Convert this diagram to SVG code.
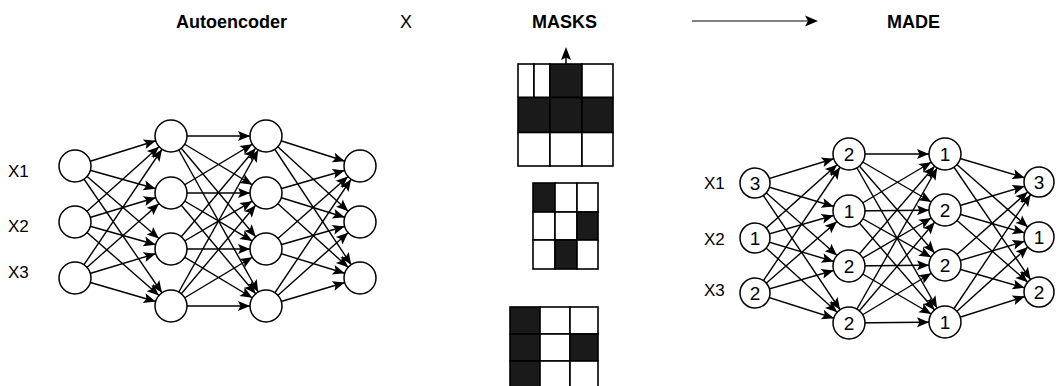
<svg xmlns="http://www.w3.org/2000/svg" width="1058" height="386" viewBox="0 0 1058 386">
<style>
.e{stroke:#000;stroke-width:1.4;fill:none;marker-end:url(#a16)}
.e15{stroke:#000;stroke-width:1.4;fill:none;marker-end:url(#a15)}
.n{fill:#fff;stroke:#000;stroke-width:1.5}
.lbl{font-family:"Liberation Sans",Arial,sans-serif;font-size:17px;fill:#000}
.dg{font-family:"Liberation Sans",Arial,sans-serif;font-size:19px;fill:#000;text-anchor:middle}
.hd{font-family:"Liberation Sans",Arial,sans-serif;font-size:18px;font-weight:bold;fill:#000}
.cw{fill:#fff;stroke:#000;stroke-width:1.6}
.cb{fill:#1a1a1a;stroke:#000;stroke-width:1.6}
</style>
<defs>
<marker id="a16" markerUnits="userSpaceOnUse" markerWidth="1" markerHeight="1" refX="0" refY="0" orient="auto" overflow="visible">
<path d="M-16,0 L-28,-5 L-25.5,0 L-28,5 z" fill="#000"/>
</marker>
<marker id="a15" markerUnits="userSpaceOnUse" markerWidth="1" markerHeight="1" refX="0" refY="0" orient="auto" overflow="visible">
<path d="M-15,0 L-27,-5 L-24.5,0 L-27,5 z" fill="#000"/>
</marker>
</defs>
<rect width="1058" height="386" fill="#fff"/>

<g id="headers">
<text class="hd" x="176" y="28">Autoencoder</text>
<text class="lbl" x="400" y="28" style="font-size:18px">X</text>
<text class="hd" x="532" y="28">MASKS</text>
<text class="hd" x="887" y="28">MADE</text>
</g>

<g id="connectors">
<!-- header arrow -->
<line x1="692" y1="21" x2="808" y2="21" stroke="#808080" stroke-width="2"/>
<path d="M818,21 L805,15.5 L808,21 L805,26.5 z" fill="#000"/>
<!-- mask arrow -->
<line x1="566" y1="64" x2="566" y2="56" stroke="#000" stroke-width="1.5"/>
<path d="M566,47 L561,60 L566,57.5 L571,60 z" fill="#000"/>

<!-- left: input -> hidden1 -->
<line class="e" x1="75" y1="166" x2="171" y2="136"/>
<line class="e" x1="75" y1="166" x2="171" y2="193"/>
<line class="e" x1="75" y1="166" x2="171" y2="249"/>
<line class="e" x1="75" y1="166" x2="171" y2="306"/>
<line class="e" x1="75" y1="222" x2="171" y2="136"/>
<line class="e" x1="75" y1="222" x2="171" y2="193"/>
<line class="e" x1="75" y1="222" x2="171" y2="249"/>
<line class="e" x1="75" y1="222" x2="171" y2="306"/>
<line class="e" x1="75" y1="278" x2="171" y2="136"/>
<line class="e" x1="75" y1="278" x2="171" y2="193"/>
<line class="e" x1="75" y1="278" x2="171" y2="249"/>
<line class="e" x1="75" y1="278" x2="171" y2="306"/>
<!-- left: hidden1 -> hidden2 -->
<line class="e" x1="171" y1="136" x2="266" y2="136"/>
<line class="e" x1="171" y1="136" x2="266" y2="193"/>
<line class="e" x1="171" y1="136" x2="266" y2="249"/>
<line class="e" x1="171" y1="136" x2="266" y2="306"/>
<line class="e" x1="171" y1="193" x2="266" y2="136"/>
<line class="e" x1="171" y1="193" x2="266" y2="193"/>
<line class="e" x1="171" y1="193" x2="266" y2="249"/>
<line class="e" x1="171" y1="193" x2="266" y2="306"/>
<line class="e" x1="171" y1="249" x2="266" y2="136"/>
<line class="e" x1="171" y1="249" x2="266" y2="193"/>
<line class="e" x1="171" y1="249" x2="266" y2="249"/>
<line class="e" x1="171" y1="249" x2="266" y2="306"/>
<line class="e" x1="171" y1="306" x2="266" y2="136"/>
<line class="e" x1="171" y1="306" x2="266" y2="193"/>
<line class="e" x1="171" y1="306" x2="266" y2="249"/>
<line class="e" x1="171" y1="306" x2="266" y2="306"/>
<!-- left: hidden2 -> output -->
<line class="e" x1="266" y1="136" x2="360" y2="166"/>
<line class="e" x1="266" y1="136" x2="360" y2="222"/>
<line class="e" x1="266" y1="136" x2="360" y2="278"/>
<line class="e" x1="266" y1="193" x2="360" y2="166"/>
<line class="e" x1="266" y1="193" x2="360" y2="222"/>
<line class="e" x1="266" y1="193" x2="360" y2="278"/>
<line class="e" x1="266" y1="249" x2="360" y2="166"/>
<line class="e" x1="266" y1="249" x2="360" y2="222"/>
<line class="e" x1="266" y1="249" x2="360" y2="278"/>
<line class="e" x1="266" y1="306" x2="360" y2="166"/>
<line class="e" x1="266" y1="306" x2="360" y2="222"/>
<line class="e" x1="266" y1="306" x2="360" y2="278"/>

<!-- right: input -> hidden1 -->
<line class="e" x1="755" y1="183" x2="849" y2="154"/>
<line class="e" x1="755" y1="183" x2="849" y2="211"/>
<line class="e" x1="755" y1="183" x2="849" y2="266"/>
<line class="e" x1="755" y1="183" x2="849" y2="323"/>
<line class="e" x1="755" y1="238" x2="849" y2="154"/>
<line class="e" x1="755" y1="238" x2="849" y2="211"/>
<line class="e" x1="755" y1="238" x2="849" y2="266"/>
<line class="e" x1="755" y1="238" x2="849" y2="323"/>
<line class="e" x1="755" y1="293" x2="849" y2="154"/>
<line class="e" x1="755" y1="293" x2="849" y2="211"/>
<line class="e" x1="755" y1="293" x2="849" y2="266"/>
<line class="e" x1="755" y1="293" x2="849" y2="323"/>
<!-- right: hidden1 -> hidden2 -->
<line class="e" x1="849" y1="154" x2="945" y2="154"/>
<line class="e" x1="849" y1="154" x2="945" y2="210"/>
<line class="e" x1="849" y1="154" x2="945" y2="265"/>
<line class="e" x1="849" y1="154" x2="945" y2="322"/>
<line class="e" x1="849" y1="211" x2="945" y2="154"/>
<line class="e" x1="849" y1="211" x2="945" y2="210"/>
<line class="e" x1="849" y1="211" x2="945" y2="265"/>
<line class="e" x1="849" y1="211" x2="945" y2="322"/>
<line class="e" x1="849" y1="266" x2="945" y2="154"/>
<line class="e" x1="849" y1="266" x2="945" y2="210"/>
<line class="e" x1="849" y1="266" x2="945" y2="265"/>
<line class="e" x1="849" y1="266" x2="945" y2="322"/>
<line class="e" x1="849" y1="323" x2="945" y2="154"/>
<line class="e" x1="849" y1="323" x2="945" y2="210"/>
<line class="e" x1="849" y1="323" x2="945" y2="265"/>
<line class="e" x1="849" y1="323" x2="945" y2="322"/>
<!-- right: hidden2 -> output -->
<line class="e15" x1="945" y1="154" x2="1039" y2="182"/>
<line class="e15" x1="945" y1="154" x2="1039" y2="237"/>
<line class="e15" x1="945" y1="154" x2="1039" y2="292"/>
<line class="e15" x1="945" y1="210" x2="1039" y2="182"/>
<line class="e15" x1="945" y1="210" x2="1039" y2="237"/>
<line class="e15" x1="945" y1="210" x2="1039" y2="292"/>
<line class="e15" x1="945" y1="265" x2="1039" y2="182"/>
<line class="e15" x1="945" y1="265" x2="1039" y2="237"/>
<line class="e15" x1="945" y1="265" x2="1039" y2="292"/>
<line class="e15" x1="945" y1="322" x2="1039" y2="182"/>
<line class="e15" x1="945" y1="322" x2="1039" y2="237"/>
<line class="e15" x1="945" y1="322" x2="1039" y2="292"/>
</g>

<!-- Left network nodes -->
<g id="ae-in1"><circle class="n" cx="75" cy="166" r="16"/><text class="lbl" x="8" y="177">X1</text></g>
<g id="ae-in2"><circle class="n" cx="75" cy="222" r="16"/><text class="lbl" x="8" y="232">X2</text></g>
<g id="ae-in3"><circle class="n" cx="75" cy="278" r="16"/><text class="lbl" x="8" y="278">X3</text></g>
<g id="ae-h1-1"><circle class="n" cx="171" cy="136" r="16"/></g>
<g id="ae-h1-2"><circle class="n" cx="171" cy="193" r="16"/></g>
<g id="ae-h1-3"><circle class="n" cx="171" cy="249" r="16"/></g>
<g id="ae-h1-4"><circle class="n" cx="171" cy="306" r="16"/></g>
<g id="ae-h2-1"><circle class="n" cx="266" cy="136" r="16"/></g>
<g id="ae-h2-2"><circle class="n" cx="266" cy="193" r="16"/></g>
<g id="ae-h2-3"><circle class="n" cx="266" cy="249" r="16"/></g>
<g id="ae-h2-4"><circle class="n" cx="266" cy="306" r="16"/></g>
<g id="ae-out1"><circle class="n" cx="360" cy="166" r="16"/></g>
<g id="ae-out2"><circle class="n" cx="360" cy="222" r="16"/></g>
<g id="ae-out3"><circle class="n" cx="360" cy="278" r="16"/></g>

<!-- Masks -->
<g id="mask1">
<rect class="cw" x="518" y="64" width="16" height="33.5"/>
<rect class="cw" x="534" y="64" width="16" height="33.5"/>
<rect class="cb" x="550" y="64" width="32" height="33.5"/>
<rect class="cw" x="582" y="64" width="31" height="33.5"/>
<rect class="cb" x="518" y="97.5" width="32" height="35"/>
<rect class="cb" x="550" y="97.5" width="32" height="35"/>
<rect class="cb" x="582" y="97.5" width="31" height="35"/>
<rect class="cw" x="518" y="132.5" width="32" height="33.5"/>
<rect class="cw" x="550" y="132.5" width="32" height="33.5"/>
<rect class="cw" x="582" y="132.5" width="31" height="33.5"/>
</g>
<g id="mask2">
<rect class="cb" x="533" y="183" width="22" height="29"/>
<rect class="cw" x="555" y="183" width="22" height="29"/>
<rect class="cw" x="577" y="183" width="21" height="29"/>
<rect class="cw" x="533" y="212" width="22" height="28"/>
<rect class="cw" x="555" y="212" width="22" height="28"/>
<rect class="cb" x="577" y="212" width="21" height="28"/>
<rect class="cw" x="533" y="240" width="22" height="29"/>
<rect class="cb" x="555" y="240" width="22" height="29"/>
<rect class="cw" x="577" y="240" width="21" height="29"/>
</g>
<g id="mask3">
<rect class="cb" x="510" y="307" width="30" height="27"/>
<rect class="cw" x="540" y="307" width="30" height="27"/>
<rect class="cw" x="570" y="307" width="28" height="27"/>
<rect class="cb" x="510" y="334" width="30" height="27"/>
<rect class="cw" x="540" y="334" width="30" height="27"/>
<rect class="cb" x="570" y="334" width="28" height="27"/>
<rect class="cb" x="510" y="361" width="30" height="28"/>
<rect class="cw" x="540" y="361" width="30" height="28"/>
<rect class="cw" x="570" y="361" width="28" height="28"/>
</g>

<!-- Right network nodes -->
<g id="made-in1"><circle class="n" cx="755" cy="183" r="15"/><text class="dg" x="755" y="190">3</text><text class="lbl" x="704" y="189">X1</text></g>
<g id="made-in2"><circle class="n" cx="755" cy="238" r="15"/><text class="dg" x="755" y="245">1</text><text class="lbl" x="704" y="245">X2</text></g>
<g id="made-in3"><circle class="n" cx="755" cy="293" r="15"/><text class="dg" x="755" y="300">2</text><text class="lbl" x="704" y="296">X3</text></g>
<g id="made-h1-1"><circle class="n" cx="849" cy="154" r="16"/><text class="dg" x="849" y="161">2</text></g>
<g id="made-h1-2"><circle class="n" cx="849" cy="211" r="16"/><text class="dg" x="849" y="218">1</text></g>
<g id="made-h1-3"><circle class="n" cx="849" cy="266" r="16"/><text class="dg" x="849" y="273">2</text></g>
<g id="made-h1-4"><circle class="n" cx="849" cy="323" r="16"/><text class="dg" x="849" y="330">2</text></g>
<g id="made-h2-1"><circle class="n" cx="945" cy="154" r="16"/><text class="dg" x="945" y="161">1</text></g>
<g id="made-h2-2"><circle class="n" cx="945" cy="210" r="16"/><text class="dg" x="945" y="217">2</text></g>
<g id="made-h2-3"><circle class="n" cx="945" cy="265" r="16"/><text class="dg" x="945" y="272">2</text></g>
<g id="made-h2-4"><circle class="n" cx="945" cy="322" r="16"/><text class="dg" x="945" y="329">1</text></g>
<g id="made-out1"><circle class="n" cx="1039" cy="182" r="15"/><text class="dg" x="1039" y="189">3</text></g>
<g id="made-out2"><circle class="n" cx="1039" cy="237" r="15"/><text class="dg" x="1039" y="244">1</text></g>
<g id="made-out3"><circle class="n" cx="1039" cy="292" r="15"/><text class="dg" x="1039" y="299">2</text></g>
</svg>
